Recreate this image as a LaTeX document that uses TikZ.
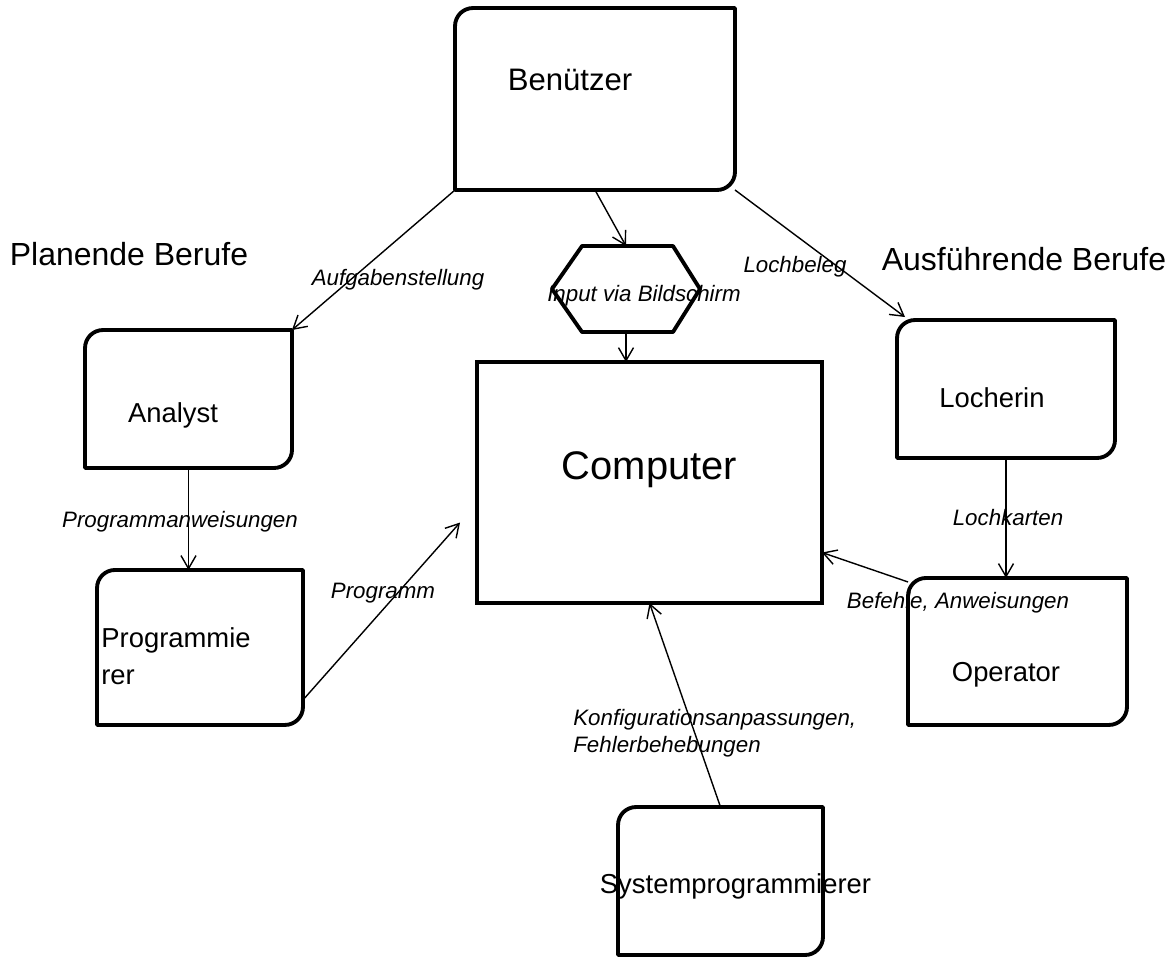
\documentclass[tikz,border=0pt]{standalone}
\usepackage{fontspec}
\setmainfont{Liberation Sans}
\usetikzlibrary{positioning}
\usetikzlibrary{arrows.meta}

\begin{document}
\begin{tikzpicture}[
        x = 0.02cm, y = -0.02cm,
        card/.style 2 args = {
            rectangle,
            minimum width = #1,
            minimum height = #2,
            inner sep = 0pt,
            outer sep = 0pt
        },
        cardline/.style = {line width = 2.2pt, line join = round},
        boxtext/.style = {font = \fontsize{15.6}{21}\selectfont, inner sep = 0pt},
        lbl/.style = {font = \fontsize{12.7}{15.4}\selectfont\itshape, inner sep = 0pt},
        head/.style = {font = \fontsize{18.2}{22}\selectfont, inner sep = 0pt},
        flow/.style = {line width = 0.8pt, -{Straight Barb[length=2.6mm, width=3mm]}}
    ]
    \useasboundingbox (0,0) rectangle (1172,958);

    % boxes
    {\node[card={5.6cm}{3.64cm}, label={[boxtext, font=\fontsize{17.7}{21}\selectfont, shift={(-25,-19)}]center:Benützer}] (ben) at (595,99) {};}
    {\node[card={4.14cm}{2.76cm}, label={[boxtext, shift={(-15.5,16)}]center:Analyst}] (ana) at (188.5,399) {};}
    {\node[card={4.12cm}{3.1cm}, label={[boxtext, align=left, shift={(-24,8.5)}]center:Programmie\\rer}, below=2.04cm of ana, xshift=0.23cm] (prog) {};}
    {\node[card={4.36cm}{2.76cm}, label={[boxtext, shift={(-14,9)}]center:Locherin}] (loch) at (1006,389) {};}
    {\node[card={4.38cm}{2.94cm}, label={[boxtext, shift={(-11.5,23.5)}]center:Operator}, below=2.4cm of loch, xshift=0.23cm] (oper) {};}
    {\node[card={4.1cm}{2.96cm}, label={[boxtext, shift={(15,5)}]center:Systemprogrammierer}] (sys) at (720.5,881) {};}
    {\node[card={6.9cm}{4.82cm}, draw, line width=2.2pt, label={[font=\fontsize{22.7}{27}\selectfont, shift={(0,-12.5)}]center:Computer}] (comp) at (649.5,482.5) {};}
    {\node[card={2.96cm}{1.72cm}, label={[lbl, shift={(18,7)}]center:Input via Bildschirm}] (hex) at (626,289) {};}

    \foreach \n in {ben, ana, prog, loch, oper, sys}
        \draw[cardline] ([xshift=3.6mm]\n.north west) -- (\n.north east) -- ([yshift=3.6mm]\n.south east)
            arc[start angle=0, end angle=-90, radius=3.6mm] -- (\n.south west) -- ([yshift=-3.6mm]\n.north west)
            arc[start angle=180, end angle=90, radius=3.6mm] -- cycle;
    \draw[cardline] (hex.west) -- ([xshift=6mm]hex.north west) -- ([xshift=-5.4mm]hex.north east) -- (hex.east)
        -- ([xshift=-5.4mm]hex.south east) -- ([xshift=6mm]hex.south west) -- cycle;

    % headings
    \node[head, anchor=base] (plan) at (129,265) {Planende Berufe};
    \node[head, anchor=base] (ausf) at (1024,270) {Ausführende Berufe};

    % connections
    \draw[flow] (ben.south west) -- (ana.north east);
    \draw[flow] (ben.south) -- (hex.north);
    \draw[flow] (ben.south east) -- ([shift={(8,-3)}]loch.north west);
    \draw[flow] (hex.south) -- (hex.south |- comp.north);
    \draw[flow] (ana.south) -- (ana.south |- prog.north);
    \draw[flow] ([shift={(0,-25)}]prog.south east) -- ([shift={(-17,40)}]comp.west);
    \draw[flow] (loch.south) -- (loch.south |- oper.north);
    \draw[flow] ([yshift=-0.08cm]oper.north west) -- ([yshift=-1.4cm]comp.east);
    \draw[flow] (sys.north) -- (comp.south);

    % edge labels
    \node[lbl] (aufg) at (398,280) {Aufgabenstellung};
    \node[lbl] (lochb) at (795,267) {Lochbeleg};
    \node[lbl] (progan) at (180,522) {Programmanweisungen};
    \node[lbl] (progr) at (383,593) {Programm};
    \node[lbl] (lochk) at (1008,518) {Lochkarten};
    \node[lbl] (bef) at (958,603) {Befehle, Anweisungen};
    \node[lbl, align=left, anchor=west] (konf) at (573,733.5) {Konfigurationsanpassungen,\\Fehlerbehebungen};
    \end{tikzpicture}
\end{document}
